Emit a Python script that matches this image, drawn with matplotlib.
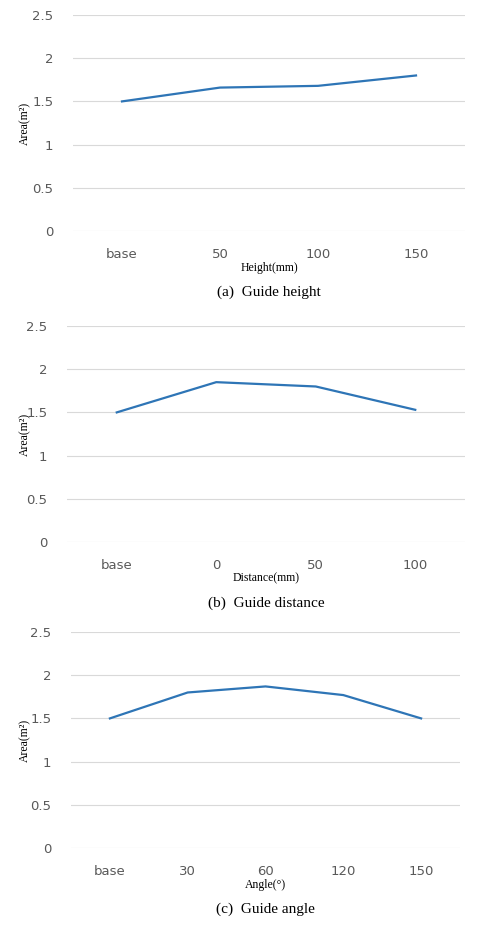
import matplotlib
matplotlib.use("Agg")
import matplotlib.pyplot as plt

cats_a = ["base", "50", "100", "150"]
vals_a = [1.5, 1.66, 1.68, 1.8]
cats_b = ["base", "0", "50", "100"]
vals_b = [1.5, 1.85, 1.8, 1.53]
cats_c = ["base", "30", "60", "120", "150"]
vals_c = [1.5, 1.8, 1.87, 1.77, 1.5]
yticks = [0, 0.5, 1, 1.5, 2, 2.5]

W, H = 483, 932
fig = plt.figure(figsize=(W/100, H/100), dpi=100)
serif = "Liberation Serif"

panels = [
    (cats_a, vals_a, "Height(mm)", "(a)  Guide height", 73, 465, 231),
    (cats_b, vals_b, "Distance(mm)", "(b)  Guide distance", 67, 465, 542),
    (cats_c, vals_c, "Angle(°)", "(c)  Guide angle", 71, 460, 848),
]
for cats, vals, xl, cap, l, r, b in panels:
    ax = fig.add_axes([l/W, 1-b/H, (r-l)/W, 216/H])
    x = list(range(len(cats)))
    ax.plot(x, vals, color="#2e75b6", lw=1.6)
    ax.set_xlim(-0.5, len(cats)-0.5)
    ax.set_ylim(0, 2.5)
    ax.set_yticks(yticks)
    ax.set_yticklabels(["0", "0.5", "1", "1.5", "2", "2.5"])
    ax.set_xticks(x)
    ax.set_xticklabels(cats)
    ax.grid(axis="y", color="#d9d9d9", lw=0.8)
    ax.set_axisbelow(True)
    for s in ax.spines.values():
        s.set_visible(False)
    ax.tick_params(length=0, labelsize=9.5, colors="#595959", pad=12)
    ax.tick_params(axis="y", pad=14)
    fig.text(25/W, 1-(b-108)/H, "Area(m²)", rotation=90, ha="center", va="center",
             fontfamily=serif, fontsize=8.5)
    ax.text(0.5, -0.17, xl, transform=ax.transAxes, ha="center", va="center",
            fontfamily=serif, fontsize=8.5)
    ax.text(0.5, -0.285, cap, transform=ax.transAxes, ha="center", va="center",
            fontfamily=serif, fontsize=11)

fig.savefig("out.png", dpi=100)
